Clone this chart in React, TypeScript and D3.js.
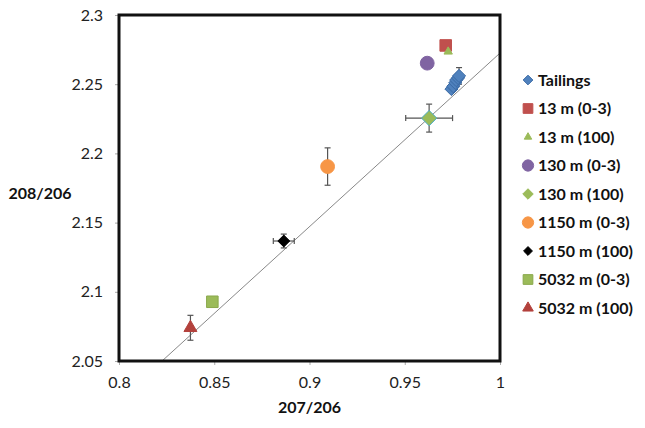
import * as d3 from 'd3';
import { useEffect, useRef } from 'react';

type Pt = { x: number; y: number; ex?: number; ey?: number };

const xTicks = [0.8, 0.85, 0.9, 0.95, 1];
const yTicks = [2.05, 2.1, 2.15, 2.2, 2.25, 2.3];

const tailings: Pt[] = [
  { x: 0.9745, y: 2.2465, ey: 0.002 },
  { x: 0.9755, y: 2.2485, ey: 0.002 },
  { x: 0.9765, y: 2.251, ey: 0.002 },
  { x: 0.977, y: 2.253, ey: 0.003 },
  { x: 0.978, y: 2.2545, ey: 0.003 },
  { x: 0.9785, y: 2.256, ey: 0.006 },
];
const m13Surface: Pt[] = [{ x: 0.9715, y: 2.278 }];
const m13Deep: Pt[] = [{ x: 0.9728, y: 2.2735 }];
const m130Surface: Pt[] = [{ x: 0.9618, y: 2.2652 }];
const m130Deep: Pt[] = [{ x: 0.9628, y: 2.2255, ex: 0.0123, ey: 0.0101 }];
const m1150Surface: Pt[] = [{ x: 0.9095, y: 2.1905, ey: 0.0135 }];
const m1150Deep: Pt[] = [{ x: 0.8865, y: 2.1367, ex: 0.0055, ey: 0.005 }];
const m5032Surface: Pt[] = [{ x: 0.849, y: 2.0928 }];
const m5032Deep: Pt[] = [{ x: 0.8375, y: 2.074, ey: 0.009 }];

const trendLine = [
  { x: 0.8226, y: 2.05 },
  { x: 1.0, y: 2.2725 },
];

const series = [
  { name: 'Tailings', data: tailings, shape: 'diamond', fill: '#4F81BD', stroke: '#3a6aa5', size: 110, legendSize: 60 },
  { name: '13 m (0-3)', data: m13Surface, shape: 'square', fill: '#C0504D', stroke: '#C0504D', size: 170, legendSize: 120 },
  { name: '13 m (100)', data: m13Deep, shape: 'triangle', fill: '#9BBB59', stroke: '#9BBB59', size: 50, legendSize: 40 },
  { name: '130 m (0-3)', data: m130Surface, shape: 'circle', fill: '#8064A2', stroke: '#8064A2', size: 150, legendSize: 100 },
  { name: '130 m (100)', data: m130Deep, shape: 'diamond', fill: '#9BBB59', stroke: '#4BACC6', size: 150, legendSize: 70 },
  { name: '1150 m (0-3)', data: m1150Surface, shape: 'circle', fill: '#F79646', stroke: '#F79646', size: 150, legendSize: 100 },
  { name: '1150 m (100)', data: m1150Deep, shape: 'diamond', fill: '#000000', stroke: '#000000', size: 90, legendSize: 50 },
  { name: '5032 m (0-3)', data: m5032Surface, shape: 'square', fill: '#9BBB59', stroke: '#8aa84c', size: 170, legendSize: 120 },
  { name: '5032 m (100)', data: m5032Deep, shape: 'triangle', fill: '#B3413C', stroke: '#B3413C', size: 120, legendSize: 80 },
];

const symbolFor = (shape: string) =>
  shape === 'diamond' ? d3.symbolDiamond2
    : shape === 'square' ? d3.symbolSquare2
    : shape === 'triangle' ? d3.symbolTriangle2
    : d3.symbolCircle;

export default function App() {
  const ref = useRef<SVGSVGElement>(null);

  useEffect(() => {
    const svg = d3.select(ref.current);
    svg.selectAll('*').remove();

    const width = 645;
    const height = 428;
    const margin = { top: 15, right: 145, bottom: 67, left: 119 };

    const x = d3.scaleLinear().domain([0.8, 1]).range([margin.left, width - margin.right]);
    const y = d3.scaleLinear().domain([2.05, 2.3]).range([height - margin.bottom, margin.top]);

    const font = 'Lato, "Open Sans", sans-serif';

    // axes
    const xAxis = svg.append('g')
      .attr('transform', `translate(0,${y(2.05)})`)
      .call(d3.axisBottom(x).tickValues(xTicks).tickFormat(d3.format('')).tickSizeOuter(0).tickSize(4).tickPadding(12));
    xAxis.select('.domain').remove();
    xAxis.selectAll('line').attr('stroke', '#aaa');
    xAxis.selectAll('text').style('font-family', font).style('font-size', '16px').attr('fill', '#222');

    const yAxis = svg.append('g')
      .attr('transform', `translate(${x(0.8)},0)`)
      .call(d3.axisLeft(y).tickValues(yTicks).tickFormat(d3.format('')).tickSizeOuter(0).tickSize(4).tickPadding(12));
    yAxis.select('.domain').remove();
    yAxis.selectAll('line').attr('stroke', '#aaa');
    yAxis.selectAll('text').style('font-family', font).style('font-size', '16px').attr('fill', '#222');

    // trend line
    const plot = svg.append('g');
    plot.append('path')
      .datum(trendLine)
      .attr('d', d3.line<{ x: number; y: number }>().x((d) => x(d.x)).y((d) => y(d.y)))
      .attr('stroke', '#888')
      .attr('stroke-width', 1)
      .attr('fill', 'none');

    // error bars
    series.forEach((s) => {
      s.data.forEach((d) => {
        const cap = 3;
        const g = plot.append('g').attr('stroke', '#555').attr('stroke-width', 1.2);
        if (d.ey) {
          g.append('line').attr('x1', x(d.x)).attr('x2', x(d.x)).attr('y1', y(d.y - d.ey)).attr('y2', y(d.y + d.ey));
          [d.y - d.ey, d.y + d.ey].forEach((v) => {
            g.append('line').attr('x1', x(d.x) - cap).attr('x2', x(d.x) + cap).attr('y1', y(v)).attr('y2', y(v));
          });
        }
        if (d.ex) {
          g.append('line').attr('x1', x(d.x - d.ex)).attr('x2', x(d.x + d.ex)).attr('y1', y(d.y)).attr('y2', y(d.y));
          [d.x - d.ex, d.x + d.ex].forEach((v) => {
            g.append('line').attr('x1', x(v)).attr('x2', x(v)).attr('y1', y(d.y) - cap).attr('y2', y(d.y) + cap);
          });
        }
      });
    });

    // markers
    series.forEach((s) => {
      plot.selectAll(null)
        .data(s.data)
        .enter()
        .append('path')
        .attr('transform', (d) => `translate(${x(d.x)},${y(d.y)})`)
        .attr('d', d3.symbol().type(symbolFor(s.shape)).size(s.size))
        .attr('fill', s.fill)
        .attr('stroke', s.stroke)
        .attr('stroke-width', 1);
    });

    // frame
    svg.append('rect')
      .attr('x', x(0.8))
      .attr('y', y(2.3))
      .attr('width', x(1) - x(0.8))
      .attr('height', y(2.05) - y(2.3))
      .attr('fill', 'none')
      .attr('stroke', '#111')
      .attr('stroke-width', 3);

    // legend
    const legend = svg.append('g').attr('transform', 'translate(528,80)');
    series.forEach((s, i) => {
      const row = legend.append('g').attr('transform', `translate(0,${i * 28.5})`);
      row.append('path')
        .attr('d', d3.symbol().type(symbolFor(s.shape)).size(s.legendSize))
        .attr('fill', s.fill)
        .attr('stroke', s.name === '130 m (100)' ? s.fill : s.stroke);
      row.append('text')
        .attr('x', 10)
        .attr('dy', '0.35em')
        .style('font-family', font)
        .style('font-size', '16px')
        .style('font-weight', 'bold')
        .attr('fill', '#111')
        .text(s.name);
    });

    // axis titles
    svg.append('text')
      .attr('x', (x(0.8) + x(1)) / 2)
      .attr('y', 413)
      .attr('text-anchor', 'middle')
      .style('font-family', font)
      .style('font-size', '16px')
      .style('font-weight', 'bold')
      .attr('fill', '#111')
      .text('207/206');

    svg.append('text')
      .attr('x', 40)
      .attr('y', 193)
      .attr('text-anchor', 'middle')
      .attr('dy', '0.35em')
      .style('font-family', font)
      .style('font-size', '16px')
      .style('font-weight', 'bold')
      .attr('fill', '#111')
      .text('208/206');
  }, []);

  return (
    <svg
      ref={ref}
      width={645}
      height={428}
      style={{ position: 'absolute', left: 0, top: 0, background: '#fff' }}
    />
  );
}
